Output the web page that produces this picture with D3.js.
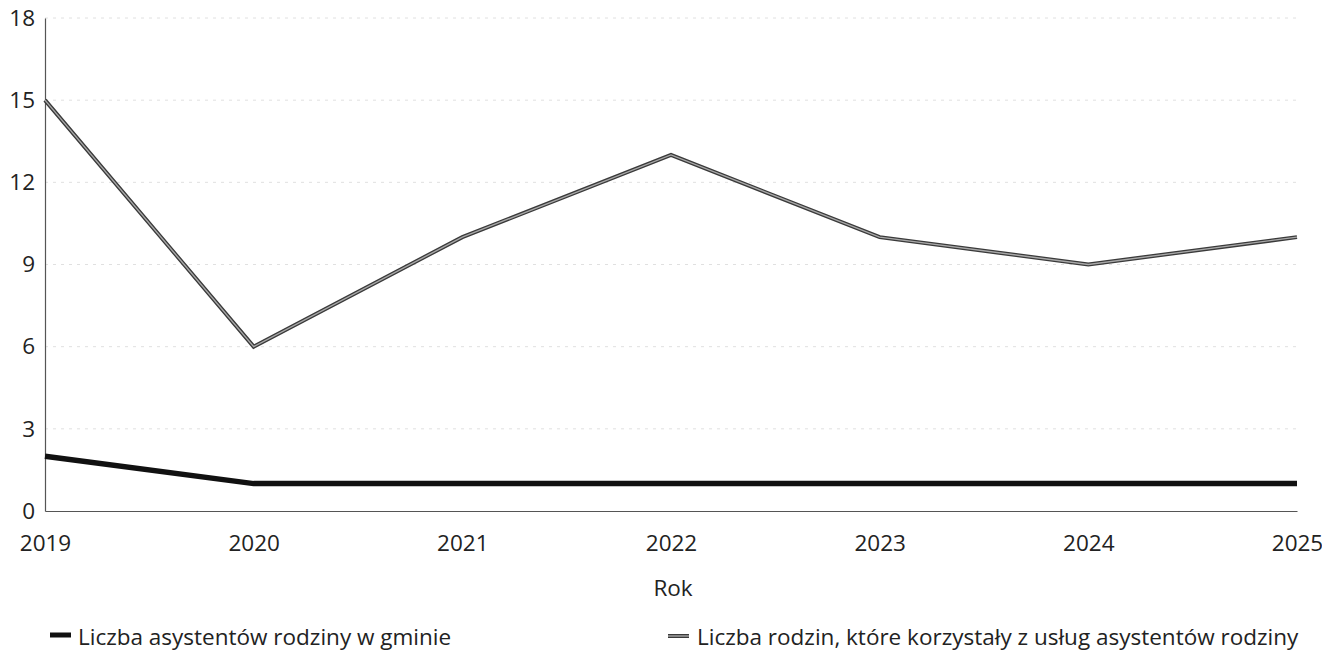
<!DOCTYPE html>
<html><head><meta charset="utf-8">
<script src="https://cdn.jsdelivr.net/npm/d3@7"></script>
<style>body{margin:0;background:#fff;} text{font-family:"Open Sans","Noto Sans",sans-serif;fill:#222;}</style>
</head><body>
<svg id="c" width="1322" height="652"></svg>
<script>
const years = [2019, 2020, 2021, 2022, 2023, 2024, 2025];
const asystenci = [2, 1, 1, 1, 1, 1, 1];
const rodziny = [15, 6, 10, 13, 10, 9, 10];
const yTicks = [0, 3, 6, 9, 12, 15, 18];
const seriesNames = ["Liczba asystentów rodziny w gminie", "Liczba rodzin, które korzystały z usług asystentów rodziny"];
const xTitle = "Rok";

const svg = d3.select("#c");
const m = {l: 45, r: 25, t: 18, b: 141};
const W = 1322, H = 652;
const FS = "22.5px";
const x = d3.scalePoint().domain(years).range([m.l, W - m.r]);
const y = d3.scaleLinear().domain([0, 18]).range([H - m.b, m.t]);

// grid
svg.append("g").selectAll("line").data(yTicks.filter(d => d > 0)).join("line")
  .attr("x1", m.l).attr("x2", W - m.r).attr("y1", d => y(d)).attr("y2", d => y(d))
  .attr("stroke", "#e0e0e0").attr("stroke-width", 1).attr("stroke-dasharray", "3,5");

// axes
const yAxis = svg.append("g").attr("transform", `translate(${m.l},0)`)
  .call(d3.axisLeft(y).tickValues(yTicks).tickSize(0).tickPadding(10));
yAxis.select(".domain").attr("stroke", "#555").attr("stroke-width", 1.2);
yAxis.selectAll("text").style("font-size", FS).attr("fill", "#222");

const xAxis = svg.append("g").attr("transform", `translate(0,${y(0)})`)
  .call(d3.axisBottom(x).tickSize(0).tickPadding(24).tickFormat(d3.format("d")));
xAxis.select(".domain").attr("stroke", "#555").attr("stroke-width", 1.2);
xAxis.selectAll("text").style("font-size", FS).attr("fill", "#222");

svg.append("text").attr("x", (m.l + W - m.r) / 2 + 2).attr("y", 596).attr("text-anchor", "middle")
  .style("font-size", FS).attr("fill", "#444").text(xTitle);

const line = d3.line().x((d, i) => x(years[i])).y(d => y(d));

// series 2 (outlined gray)
svg.append("path").datum(rodziny).attr("d", line).attr("fill", "none")
  .attr("stroke", "#3a3a3a").attr("stroke-width", 4).attr("stroke-linejoin", "miter");
svg.append("path").datum(rodziny).attr("d", line).attr("fill", "none")
  .attr("stroke", "#a8a8a8").attr("stroke-width", 1.4).attr("stroke-linejoin", "miter");

// series 1 (black thick)
svg.append("path").datum(asystenci).attr("d", line).attr("fill", "none")
  .attr("stroke", "#111").attr("stroke-width", 5.5).attr("stroke-linejoin", "miter");

// legend
const lg = svg.append("g");
lg.append("line").attr("x1", 50).attr("x2", 71).attr("y1", 635).attr("y2", 635)
  .attr("stroke", "#111").attr("stroke-width", 5);
lg.append("text").attr("x", 78).attr("y", 645).style("font-size", FS).text(seriesNames[0]);
lg.append("line").attr("x1", 668).attr("x2", 689).attr("y1", 636).attr("y2", 636)
  .attr("stroke", "#3a3a3a").attr("stroke-width", 4);
lg.append("line").attr("x1", 668).attr("x2", 689).attr("y1", 636).attr("y2", 636)
  .attr("stroke", "#a8a8a8").attr("stroke-width", 1.4);
lg.append("text").attr("x", 697).attr("y", 645).style("font-size", FS).text(seriesNames[1]);
</script>
</body></html>
